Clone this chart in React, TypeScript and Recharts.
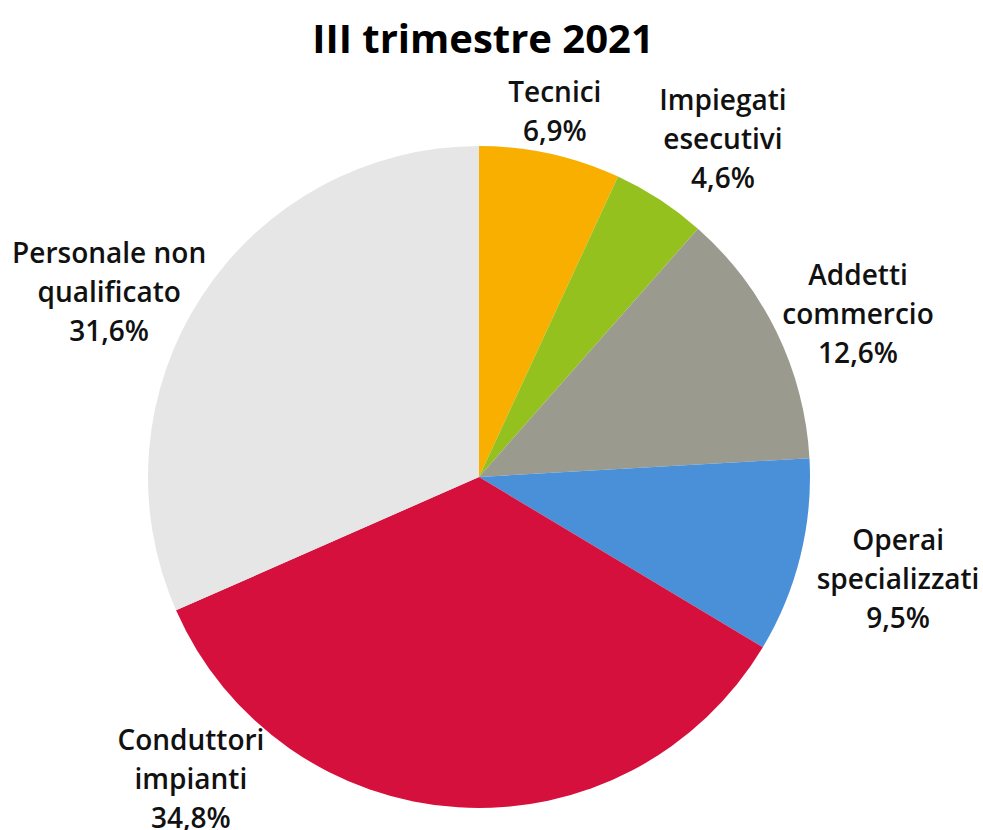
import React from 'react';
import { PieChart, Pie, Cell } from 'recharts';

const TITLE = 'III trimestre 2021';

// Slices, clockwise from 12 o'clock
const categories = [
  ['Tecnici'],
  ['Impiegati', 'esecutivi'],
  ['Addetti', 'commercio'],
  ['Operai', 'specializzati'],
  ['Conduttori', 'impianti'],
  ['Personale non', 'qualificato'],
];
const shares = [6.9, 4.6, 12.6, 9.5, 34.8, 31.6];

const COLORS = ['#F8AF00', '#95C11F', '#9B9A8F', '#4A90D9', '#D5103C', '#E6E6E6'];

// Label placement (Excel best-fit): angle clockwise from top (deg), distance from centre (px)
const LABEL_PLACE = [
  { a: 11.7, d: 374 },
  { a: 35.7, d: 418 },
  { a: 66.6, d: 413 },
  { a: 103.5, d: 431 },
  { a: 223.7, d: 417 },
  { a: 296.7, d: 414 },
];

const FONT = '"Open Sans", "Noto Sans", sans-serif';
const LINE_H = 39;

const data = shares.map((v, i) => ({ name: categories[i].join(' '), value: v, idx: i }));

const fmt = (v: number) => v.toFixed(1).replace('.', ',') + '%';

const renderLabel = (props: any) => {
  const { cx, cy, index } = props;
  const p = LABEL_PLACE[index];
  const rad = (p.a * Math.PI) / 180;
  const x = cx + p.d * Math.sin(rad);
  const y = cy - p.d * Math.cos(rad);
  const lines = [...categories[index], fmt(shares[index])];
  const top = y - ((lines.length - 1) * LINE_H) / 2;
  return (
    <text
      key={`lbl-${index}`}
      x={x}
      y={top}
      textAnchor="middle"
      dominantBaseline="central"
      fontFamily={FONT}
      fontSize={28}
      fontWeight={600}
      fill="#111"
    >
      {lines.map((l, i) => (
        <tspan key={i} x={x} y={top + i * LINE_H}>
          {l}
        </tspan>
      ))}
    </text>
  );
};

export default function App() {
  return (
    <div style={{ position: 'absolute', left: 0, top: 0, width: 983, height: 830, background: '#fff' }}>
      <PieChart width={983} height={830} margin={{ top: 0, right: 0, bottom: 0, left: 0 }}>
        <text
          x={483}
          y={37}
          textAnchor="middle"
          dominantBaseline="central"
          fontFamily={FONT}
          fontSize={40}
          fontWeight={700}
          fill="#000"
        >
          {TITLE}
        </text>
        <Pie
          data={data}
          dataKey="value"
          nameKey="name"
          cx={479}
          cy={477}
          outerRadius={331}
          startAngle={90}
          endAngle={-270}
          stroke="none"
          label={renderLabel}
          labelLine={false}
          isAnimationActive={false}
        >
          {data.map((d, i) => (
            <Cell key={d.name} fill={COLORS[i]} />
          ))}
        </Pie>
      </PieChart>
    </div>
  );
}
